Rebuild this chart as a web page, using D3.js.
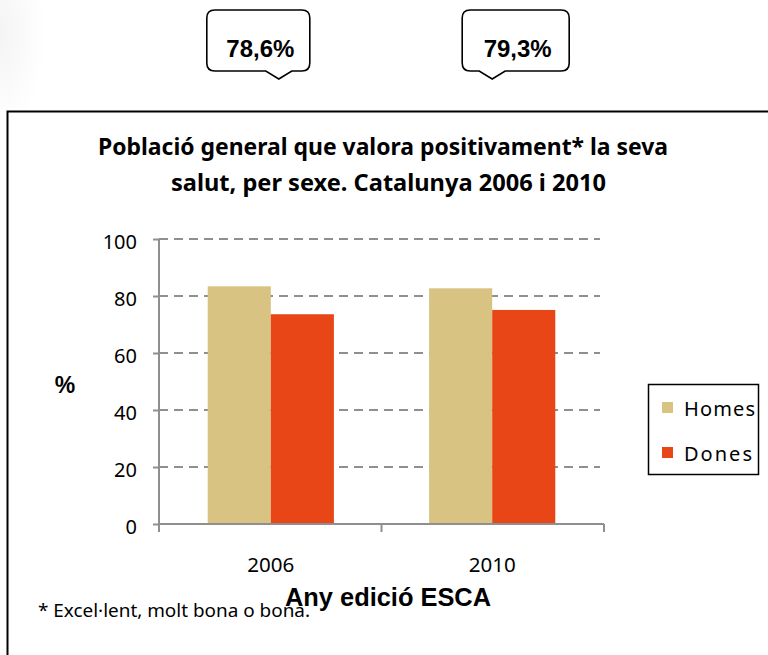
<!DOCTYPE html>
<html>
<head>
<meta charset="utf-8">
<script src="https://cdn.jsdelivr.net/npm/d3@7/dist/d3.min.js"></script>
<style>
  body { margin: 0; background: #fff; }
  svg { display: block; }
</style>
</head>
<body>
<div id="chart-area"></div>
<script>
// data
var years = ["2006", "2010"];
var series = ["Homes", "Dones"];
var homes = [83.4, 82.7];
var dones = [73.6, 75.1];
var totals = ["78,6%", "79,3%"];
var yTicks = [0, 20, 40, 60, 80, 100];

var colors = {Homes: "#D8C383", Dones: "#E84616"};

var W = 768, H = 655;

var svg = d3.select("#chart-area").append("svg")
    .attr("width", W)
    .attr("height", H);

// faint shadow top-left
var defs = svg.append("defs");
var grad = defs.append("radialGradient").attr("id", "shade")
    .attr("cx", 0).attr("cy", 0.3).attr("r", 0.9);
grad.append("stop").attr("offset", "0%").attr("stop-color", "#f4f4f4");
grad.append("stop").attr("offset", "100%").attr("stop-color", "#fff");
svg.append("rect")
    .attr("x", 0).attr("y", 0).attr("width", 50).attr("height", 110)
    .attr("fill", "url(#shade)");

// frame
svg.append("rect")
    .attr("x", 7.5).attr("y", 111.5)
    .attr("width", 800).attr("height", 600)
    .attr("fill", "#fff")
    .attr("stroke", "#000")
    .attr("stroke-width", 2);

// title
var title = svg.append("g")
    .attr("font-family", "'Noto Sans', sans-serif")
    .attr("font-weight", "bold")
    .attr("font-size", 24)
    .attr("fill", "#000");
title.append("text")
    .attr("x", 98).attr("y", 155)
    .attr("textLength", 570).attr("lengthAdjust", "spacingAndGlyphs")
    .text("Població general que valora positivament* la seva");
title.append("text")
    .attr("x", 171).attr("y", 191)
    .attr("textLength", 435).attr("lengthAdjust", "spacingAndGlyphs")
    .text("salut, per sexe. Catalunya 2006 i 2010");

// scales
var x = d3.scaleBand()
    .domain(years)
    .range([159, 604])
    .paddingInner(0.43)
    .paddingOuter(0.22);

var xSub = d3.scaleBand()
    .domain(series)
    .range([0, x.bandwidth()]);

var y = d3.scaleLinear()
    .domain([0, 100])
    .range([524, 239]);

// gridlines
svg.append("g")
    .selectAll("line")
    .data(yTicks.filter(function(d) { return d > 0; }))
    .enter().append("line")
    .attr("x1", 159).attr("x2", 600)
    .attr("y1", function(d) { return y(d); })
    .attr("y2", function(d) { return y(d); })
    .attr("stroke", "#8f8f8f")
    .attr("stroke-width", 2)
    .attr("stroke-dasharray", "9,6");

// bars
var rows = years.map(function(yr, i) {
  return {year: yr, values: [{key: "Homes", v: homes[i]}, {key: "Dones", v: dones[i]}]};
});

var groups = svg.append("g").selectAll("g")
    .data(rows)
    .enter().append("g")
    .attr("transform", function(d) { return "translate(" + x(d.year) + ",0)"; });

groups.selectAll("rect")
    .data(function(d) { return d.values; })
    .enter().append("rect")
    .attr("x", function(d) { return xSub(d.key); })
    .attr("y", function(d) { return y(d.v); })
    .attr("width", xSub.bandwidth())
    .attr("height", function(d) { return y(0) - y(d.v); })
    .attr("fill", function(d) { return colors[d.key]; });

// y axis
var yAxis = d3.axisLeft(y).tickValues(yTicks).tickSize(6).tickPadding(16);
var yAxisGroup = svg.append("g")
    .attr("transform", "translate(159,0)")
    .call(yAxis);
yAxisGroup.select(".domain").attr("stroke", "#8f8f8f").attr("stroke-width", 2)
    .attr("d", "M0," + y(100) + "V" + y(0));
yAxisGroup.selectAll(".tick line").attr("stroke", "#8f8f8f").attr("stroke-width", 2);
yAxisGroup.selectAll(".tick text")
    .attr("font-family", "'Noto Sans', sans-serif")
    .attr("font-size", 20)
    .attr("fill", "#000")
    .attr("dy", "0.45em");

// x axis
var xAxis = d3.axisBottom(x).tickSize(0).tickPadding(34);
var xAxisGroup = svg.append("g")
    .attr("transform", "translate(0," + y(0) + ")")
    .call(xAxis);
xAxisGroup.select(".domain").attr("stroke", "#8f8f8f").attr("stroke-width", 2)
    .attr("d", "M159,0H604");
xAxisGroup.selectAll(".tick text")
    .attr("font-family", "'Noto Sans', sans-serif")
    .attr("font-size", 20)
    .attr("fill", "#000")
    .attr("textLength", 47).attr("lengthAdjust", "spacingAndGlyphs");

// category boundary ticks
var bounds = [159, (x(years[0]) + x.bandwidth() + x(years[1])) / 2, 604];
xAxisGroup.selectAll(".bound")
    .data(bounds)
    .enter().append("line")
    .attr("class", "bound")
    .attr("x1", function(d) { return d; })
    .attr("x2", function(d) { return d; })
    .attr("y1", 0).attr("y2", 8)
    .attr("stroke", "#8f8f8f")
    .attr("stroke-width", 2);

// axis titles
svg.append("text")
    .attr("x", 65).attr("y", 393)
    .attr("text-anchor", "middle")
    .attr("font-family", "'Liberation Sans', Arial, sans-serif")
    .attr("font-weight", "bold")
    .attr("font-size", 23)
    .text("%");

svg.append("text")
    .attr("x", 388).attr("y", 606)
    .attr("text-anchor", "middle")
    .attr("font-family", "'Liberation Sans', Arial, sans-serif")
    .attr("font-weight", "bold")
    .attr("font-size", 25)
    .attr("textLength", 206).attr("lengthAdjust", "spacingAndGlyphs")
    .text("Any edició ESCA");

// footnote
svg.append("text")
    .attr("x", 38).attr("y", 617)
    .attr("font-family", "'Noto Sans', sans-serif")
    .attr("font-size", 18)
    .attr("textLength", 272).attr("lengthAdjust", "spacingAndGlyphs")
    .text("* Excel·lent, molt bona o bona.");

// legend
var legend = svg.append("g").attr("transform", "translate(648,384)");
legend.append("rect")
    .attr("x", 0.5).attr("y", 0.5)
    .attr("width", 110).attr("height", 90)
    .attr("fill", "#fff")
    .attr("stroke", "#000")
    .attr("stroke-width", 1.5);
var items = legend.selectAll(".item")
    .data(series)
    .enter().append("g")
    .attr("class", "item")
    .attr("transform", function(d, i) { return "translate(14," + (18 + i * 45) + ")"; });
items.append("rect")
    .attr("width", 11).attr("height", 11)
    .attr("fill", function(d) { return colors[d]; });
items.append("text")
    .attr("x", 22).attr("y", 14)
    .attr("font-family", "'Noto Sans', sans-serif")
    .attr("font-size", 20)
    .attr("textLength", function(d) { return d === "Homes" ? 71 : 68; })
    .attr("lengthAdjust", "spacing")
    .text(function(d) { return d; });

// callouts with totals
var callDx = [-64, -30];
var callTip = [8, 0];
var boxW = [103, 107], boxTop = 10, boxBottom = 71, tipY = 79, r = 8;

var calls = svg.append("g").selectAll("g")
    .data(years)
    .enter().append("g");

calls.append("path")
    .attr("fill", "#fff")
    .attr("stroke", "#000")
    .attr("stroke-width", 1.6)
    .attr("d", function(d, i) {
      var c = x(d) + x.bandwidth() / 2;
      var x0 = c + callDx[i], x1 = x0 + boxW[i];
      var tx = c + callTip[i];
      return "M" + (x0 + r) + "," + boxTop +
        "H" + (x1 - r) + "Q" + x1 + "," + boxTop + " " + x1 + "," + (boxTop + r) +
        "V" + (boxBottom - r) + "Q" + x1 + "," + boxBottom + " " + (x1 - r) + "," + boxBottom +
        "H" + (tx + 13) + "L" + tx + "," + tipY + "L" + (tx - 13) + "," + boxBottom +
        "H" + (x0 + r) + "Q" + x0 + "," + boxBottom + " " + x0 + "," + (boxBottom - r) +
        "V" + (boxTop + r) + "Q" + x0 + "," + boxTop + " " + (x0 + r) + "," + boxTop + "Z";
    });

calls.append("text")
    .attr("x", function(d, i) { return x(d) + x.bandwidth() / 2 + callDx[i] + boxW[i] / 2 + 2; })
    .attr("y", 57)
    .attr("text-anchor", "middle")
    .attr("font-family", "'Liberation Sans', Arial, sans-serif")
    .attr("font-weight", "bold")
    .attr("font-size", 24)
    .attr("textLength", 68).attr("lengthAdjust", "spacingAndGlyphs")
    .text(function(d, i) { return totals[i]; });
</script>
</body>
</html>
